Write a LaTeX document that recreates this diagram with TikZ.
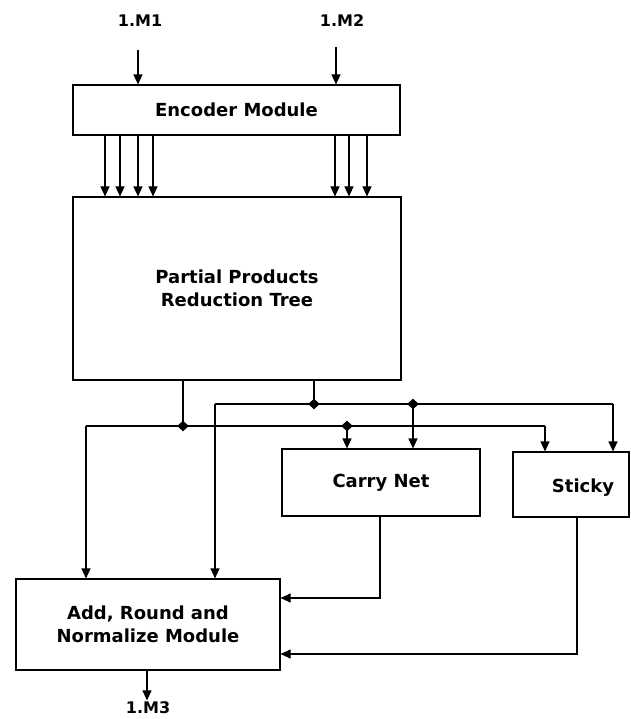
\documentclass[tikz,border=0pt]{standalone}
\usepackage{fontspec}
\setmainfont{DejaVu Sans}
\usetikzlibrary{arrows.meta,shapes.geometric}
\begin{document}
\begin{tikzpicture}[x=1pt,y=-1pt,
  line width=1.1pt,
  box/.style={draw,rectangle,inner sep=0pt,font=\fontsize{18}{23}\selectfont\bfseries,align=center},
  lbl/.style={font=\fontsize{16}{18}\selectfont\bfseries,inner sep=1pt},
  arr/.style={-{Triangle[length=10pt,width=9pt]}},
  dot/.style={diamond,fill=black,draw=none,inner sep=0pt,minimum width=12pt,minimum height=11pt}
]
\useasboundingbox (0,0) rectangle (630,719);

% labels
\node[lbl] (m1) at (140,21) {1.M1};
\node[lbl] (m2) at (342,21) {1.M2};
\node[lbl] (m3) at (148,708) {1.M3};

% boxes
\node[box,minimum width=327pt,minimum height=50pt] (enc) at (236.5,110) {Encoder Module};
\node[box,minimum width=328pt,minimum height=183pt] (pp) at (237,288.5) {Partial Products\\Reduction Tree};
\node[box,minimum width=198pt,minimum height=67pt] (carry) at (381,482.5) {Carry Net};
\node[box,minimum width=116pt,minimum height=65pt] (sticky) at (571,484.5) {};
\node[box,draw=none] (stickytxt) at (583,488) {Sticky};
\node[box,minimum width=264pt,minimum height=91pt] (add) at (148,624.5) {Add, Round and\\Normalize Module};

% inputs
\coordinate (i1) at (138,50);
\coordinate (i2) at (336,47);
\draw[arr] (i1) -- (i1 |- enc.north);
\draw[arr] (i2) -- (i2 |- enc.north);

% encoder to tree
\foreach \x in {105,120,138,153,335,349,367}
  \draw[arr] (\x,0 |- enc.south) -- (\x,0 |- pp.north);

% buses
\node[dot] (d1) at (314,404) {};
\node[dot] (d2) at (183,426) {};
\node[dot] (d3) at (413,404) {};
\node[dot] (d4) at (347,426) {};
\coordinate (u0) at (215,404);
\coordinate (u1) at (613,404);
\coordinate (l0) at (86,426);
\coordinate (l1) at (545,426);

\draw (d1 |- pp.south) -- (d1.center);
\draw (d2 |- pp.south) -- (d2.center);

\draw (u0) -- (u1);
\draw (l0) -- (l1);

\draw[arr] (u0) -- (u0 |- add.north);
\draw[arr] (l0) -- (l0 |- add.north);
\draw[arr] (d3.center) -- (d3 |- carry.north);
\draw[arr] (d4.center) -- (d4 |- carry.north);
\draw[arr] (u1) -- (u1 |- sticky.north);
\draw[arr] (l1) -- (l1 |- sticky.north);

% to add module
\coordinate (c1) at (380,598);
\coordinate (s1) at (577,654);
\draw[arr] (c1 |- carry.south) -- (c1) -- (c1 -| add.east);
\draw[arr] (s1 |- sticky.south) -- (s1) -- (s1 -| add.east);

% output
\draw[arr] (add.south -| 147,0) -- (m3.north -| 147,0);
\end{tikzpicture}
\end{document}
